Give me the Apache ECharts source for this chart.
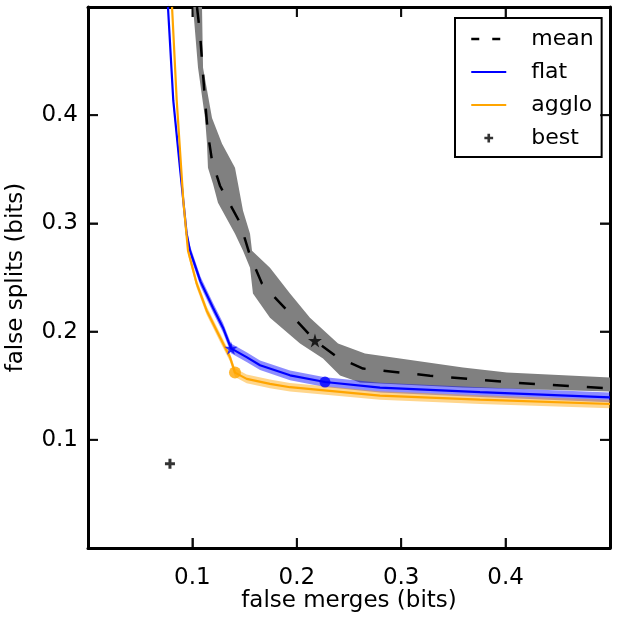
<!DOCTYPE html>
<html>
<head>
<meta charset="utf-8">
<script src="https://cdn.jsdelivr.net/npm/echarts@6/dist/echarts.min.js"></script>
<style>
html,body{margin:0;padding:0;background:#fff;}
#chart{width:619px;height:619px;}
</style>
</head>
<body>
<div id="chart"></div>
<script>
// ---------- data ----------
const xTickLabels = ['0.1', '0.2', '0.3', '0.4'];
const yTickLabels = ['0.1', '0.2', '0.3', '0.4'];

const meanX = [0.1044, 0.1073, 0.1121, 0.1149, 0.1188, 0.1264, 0.1341, 0.1456, 0.1552, 0.1667, 0.1935, 0.2174, 0.2395, 0.2634, 0.3276, 0.4071, 0.5000];
const meanY = [0.5000, 0.4752, 0.4133, 0.3828, 0.3579, 0.3348, 0.3210, 0.3006, 0.2702, 0.2443, 0.2166, 0.1917, 0.1760, 0.1658, 0.1593, 0.1529, 0.1474];

// gray band around mean: lower-left edge and upper-right edge
const meanBandInner = [[0.1006, 0.5000], [0.1054, 0.4438], [0.1121, 0.3975], [0.1140, 0.3735], [0.1149, 0.3514], [0.1197, 0.3366], [0.1245, 0.3190], [0.1408, 0.2905], [0.1485, 0.2748], [0.1552, 0.2591], [0.1580, 0.2351], [0.1743, 0.2129], [0.2031, 0.1889], [0.2251, 0.1751], [0.2414, 0.1594], [0.2605, 0.1529], [0.3592, 0.1483], [0.5000, 0.1446]];
const meanBandOuter = [[0.1092, 0.5000], [0.1102, 0.4438], [0.1188, 0.3975], [0.1284, 0.3735], [0.1408, 0.3514], [0.1437, 0.3366], [0.1485, 0.3117], [0.1552, 0.2905], [0.1571, 0.2748], [0.1743, 0.2591], [0.1935, 0.2351], [0.2126, 0.2129], [0.2395, 0.1889], [0.2653, 0.1797], [0.3592, 0.1668], [0.4013, 0.1621], [0.5000, 0.1575]];

const flatX = [0.0766, 0.0817, 0.0881, 0.0913, 0.0945, 0.0977, 0.1078, 0.1197, 0.1293, 0.1370, 0.1523, 0.1648, 0.1935, 0.2270, 0.2797, 0.3755, 0.5000];
const flatY = [0.5000, 0.4134, 0.3513, 0.3209, 0.2905, 0.2748, 0.2462, 0.2221, 0.2036, 0.1845, 0.1762, 0.1689, 0.1596, 0.1534, 0.1483, 0.1440, 0.1393];
const flatLo = [0.4955, 0.4089, 0.3468, 0.3164, 0.2860, 0.2703, 0.2417, 0.2176, 0.1991, 0.1800, 0.1717, 0.1644, 0.1551, 0.1489, 0.1438, 0.1395, 0.1348];
const flatHi = [0.5045, 0.4179, 0.3558, 0.3254, 0.2950, 0.2793, 0.2507, 0.2266, 0.2081, 0.1890, 0.1807, 0.1734, 0.1641, 0.1579, 0.1528, 0.1485, 0.1438];

const aggloX = [0.0805, 0.0850, 0.0913, 0.0958, 0.1041, 0.1137, 0.1264, 0.1360, 0.1408, 0.1520, 0.1743, 0.1935, 0.2797, 0.3755, 0.5000];
const aggloY = [0.5000, 0.4134, 0.3209, 0.2748, 0.2443, 0.2193, 0.1947, 0.1763, 0.1621, 0.1563, 0.1517, 0.1486, 0.1409, 0.1372, 0.1331];
const aggloLo = [0.4960, 0.4094, 0.3169, 0.2708, 0.2403, 0.2153, 0.1907, 0.1723, 0.1581, 0.1523, 0.1477, 0.1446, 0.1369, 0.1332, 0.1291];
const aggloHi = [0.5040, 0.4174, 0.3249, 0.2788, 0.2483, 0.2233, 0.1987, 0.1803, 0.1661, 0.1603, 0.1557, 0.1526, 0.1449, 0.1412, 0.1371];

const flatStar = [0.1370, 0.1845];
const flatDot = [0.2270, 0.1534];
const aggloDot = [0.1408, 0.1621];
const meanStar = [0.2174, 0.1917];
const bestPoint = [0.0785, 0.0778];

// ---------- helpers ----------
const zip = (xs, ys) => xs.map((x, i) => [x, ys[i]]);
const STAR = 'path://M50,0 L61,35 L98,35 L68,57 L79,91 L50,70 L21,91 L32,57 L2,35 L39,35 Z';
const PLUS = 'path://M3.5,0h3v3.5h3.5v3h-3.5v3.5h-3v-3.5h-3.5v-3h3.5z';
const PLUS_PADDED = 'path://M-3,-3h0.05v0.05h-0.05z M3.5,0h3v3.5h3.5v3h-3.5v3.5h-3v-3.5h-3.5v-3h3.5z M12.95,12.95h0.05v0.05h-0.05z';
const FONT = 'DejaVu Sans';
const X_MIN = 0, X_MAX = 0.5, Y_MIN = 0, Y_MAX = 0.5;
const TICK_LEN = 10, TICK_W = 2;
const G_LEFT = 88, G_RIGHT = 9, G_TOP = 7, G_BOTTOM = 71;
const G_W = 619 - G_LEFT - G_RIGHT, G_H = 619 - G_TOP - G_BOTTOM;

function polySeries(points, fill, opacity, z) {
  return {
    type: 'custom',
    coordinateSystem: 'cartesian2d',
    silent: true,
    z: z,
    data: [points[0]],
    renderItem: function (params, api) {
      return {
        type: 'polygon',
        shape: { points: points.map(p => api.coord(p)) },
        style: { fill: fill, opacity: opacity }
      };
    }
  };
}

// inward tick marks: thin rect symbols anchored on the frame, placed by the axes' scales
function tickSeries(points, size, offset) {
  return {
    type: 'scatter', silent: true, clip: false, z: 20,
    data: points, symbol: 'rect', symbolSize: size, symbolOffset: offset,
    itemStyle: { color: '#000' }, emphasis: { disabled: true }
  };
}
const xTickVals = xTickLabels.map(Number);
const yTickVals = yTickLabels.map(Number);

const meanPoly = meanBandInner.concat(meanBandOuter.slice().reverse());
const flatPoly = zip(flatX, flatHi).concat(zip(flatX, flatLo).reverse());
const aggloPoly = zip(aggloX, aggloHi).concat(zip(aggloX, aggloLo).reverse());

const fmtX = v => { const s = (Math.round(v * 10) / 10).toFixed(1); return xTickLabels.includes(s) && Math.abs(v - parseFloat(s)) < 1e-6 ? s : ''; };
const fmtY = v => { const s = (Math.round(v * 10) / 10).toFixed(1); return yTickLabels.includes(s) && Math.abs(v - parseFloat(s)) < 1e-6 ? s : ''; };

const mkLine = () => ({ show: true, onZero: false, lineStyle: { color: '#000', width: 3 } });
// an axis mounted on the opposite side of the frame: its outward ticks point into the plot
const tickAxis = (position, offset, min, max) => ({
  type: 'value', min: min, max: max, interval: 0.1, position: position, offset: offset,
  axisLine: { show: false, onZero: false }, splitLine: { show: false }, axisLabel: { show: false },
  axisTick: { show: true, inside: false, length: TICK_LEN, lineStyle: { color: '#000', width: 1.5 } }
});

const chart = echarts.init(document.getElementById('chart'), null, { renderer: 'canvas' });
chart.setOption({
  animation: false,
  backgroundColor: '#fff',
  grid: { left: G_LEFT, right: G_RIGHT, top: G_TOP, bottom: G_BOTTOM, show: false, containLabel: false, outerBoundsMode: 'none' },
  xAxis: [
    {
      type: 'value', min: X_MIN, max: X_MAX, interval: 0.1, position: 'bottom',
      name: 'false merges (bits)', nameLocation: 'middle', nameGap: 42, nameMoveOverlap: false,
      nameTextStyle: { fontFamily: FONT, fontSize: 23, color: '#000' },
      axisLine: mkLine(), splitLine: { show: false },
      axisTick: { show: false },
      axisLabel: { formatter: fmtX, fontFamily: FONT, fontSize: 23, color: '#000', margin: 19 }
    },
    {
      type: 'value', min: X_MIN, max: X_MAX, interval: 0.1, position: 'top',
      axisLine: mkLine(), splitLine: { show: false },
      axisTick: { show: false }, axisLabel: { show: false }
    },
    tickAxis('top', -G_H, X_MIN, X_MAX),
    tickAxis('bottom', -G_H, X_MIN, X_MAX)
  ],
  yAxis: [
    {
      type: 'value', min: Y_MIN, max: Y_MAX, interval: 0.1, position: 'left',
      name: 'false splits (bits)', nameLocation: 'middle', nameGap: 60, nameMoveOverlap: false,
      nameTextStyle: { fontFamily: FONT, fontSize: 23, color: '#000' },
      axisLine: mkLine(), splitLine: { show: false },
      axisTick: { show: false },
      axisLabel: { formatter: fmtY, fontFamily: FONT, fontSize: 23, color: '#000', margin: 10 }
    },
    {
      type: 'value', min: Y_MIN, max: Y_MAX, interval: 0.1, position: 'right',
      axisLine: mkLine(), splitLine: { show: false },
      axisTick: { show: false }, axisLabel: { show: false }
    },
    tickAxis('right', -G_W, Y_MIN, Y_MAX),
    tickAxis('left', -G_W, Y_MIN, Y_MAX)
  ],
  legend: {
    left: 455, top: 18, orient: 'vertical',
    padding: [10, 8, 8, 15],
    borderColor: '#000', borderWidth: 2, backgroundColor: '#fff',
    itemWidth: 35, itemHeight: 14, itemGap: 11,
    textStyle: { fontFamily: FONT, fontSize: 22, color: '#000', lineHeight: 20, padding: [0, 0, 0, 20] },
    data: [
      { name: 'mean', itemStyle: { opacity: 0 }, lineStyle: { type: [8, 13], width: 2.5, color: '#000' } },
      { name: 'flat', itemStyle: { opacity: 0 } },
      { name: 'agglo', itemStyle: { opacity: 0 } },
      { name: 'best', icon: PLUS_PADDED }
    ]
  },
  series: [
    polySeries(meanPoly, '#808080', 1, 1),
    polySeries(flatPoly, '#0000ff', 0.45, 2),
    polySeries(aggloPoly, '#ffa500', 0.45, 2),
    {
      name: 'mean', type: 'line', data: zip(meanX, meanY), symbol: 'none', z: 5,
      lineStyle: { color: '#000', width: 2.5, type: [16, 18] }, itemStyle: { color: '#000' }
    },
    {
      name: 'flat', type: 'line', data: zip(flatX, flatY), symbol: 'none', z: 4,
      lineStyle: { color: '#0000ff', width: 2.2 }, itemStyle: { color: '#0000ff' }
    },
    {
      name: 'agglo', type: 'line', data: zip(aggloX, aggloY), symbol: 'none', z: 4,
      lineStyle: { color: '#ffa500', width: 2.2 }, itemStyle: { color: '#ffa500' }
    },
    {
      name: 'best', type: 'scatter', data: [bestPoint], symbol: PLUS, symbolSize: 10, z: 6,
      itemStyle: { color: '#000' }
    },
    { name: 'flatStar', type: 'scatter', data: [flatStar], symbol: STAR, symbolSize: 13, z: 6, itemStyle: { color: '#0000ff' } },
    { name: 'flatDot', type: 'scatter', data: [flatDot], symbol: 'circle', symbolSize: 11, z: 6, itemStyle: { color: '#0000ff' } },
    { name: 'aggloDot', type: 'scatter', data: [aggloDot], symbol: 'circle', symbolSize: 12, z: 6, itemStyle: { color: '#ffa500' } },
    { name: 'meanStar', type: 'scatter', data: [meanStar], symbol: STAR, symbolSize: 14, z: 6, itemStyle: { color: '#000' } },
    tickSeries(xTickVals.map(v => [v, Y_MIN]), [TICK_W, TICK_LEN], [0, -TICK_LEN / 2]),
    tickSeries(xTickVals.map(v => [v, Y_MAX]), [TICK_W, TICK_LEN], [0, TICK_LEN / 2]),
    tickSeries(yTickVals.map(v => [X_MIN, v]), [TICK_LEN, TICK_W], [TICK_LEN / 2, 0]),
    tickSeries(yTickVals.map(v => [X_MAX, v]), [TICK_LEN, TICK_W], [-TICK_LEN / 2, 0])
  ]
});
</script>
</body>
</html>
